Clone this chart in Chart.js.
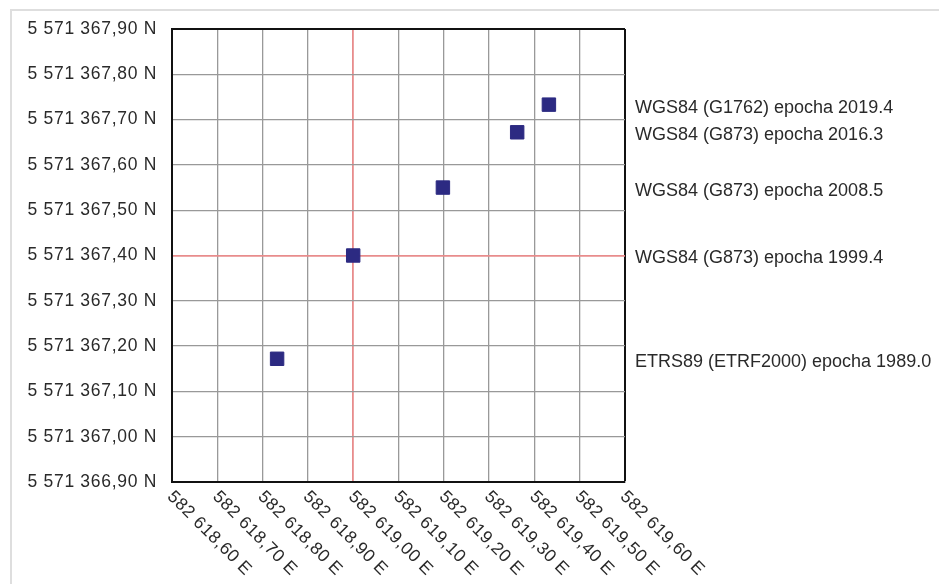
<!DOCTYPE html>
<html>
<head>
<meta charset="utf-8">
<script src="https://cdn.jsdelivr.net/npm/chart.js@4.4.1/dist/chart.umd.min.js"></script>
<style>
    html, body { margin: 0; padding: 0; background: #fff; overflow: hidden; }
    #frame { position: absolute; left: 10px; top: 9px; width: 960px; height: 600px; border: 2px solid #dedede; }
    #wrap { position: absolute; left: 0; top: 0; width: 939px; height: 584px; }
</style>
</head>
<body>
<div id="frame"></div>
<div id="wrap"><canvas id="chart"></canvas></div>
<script>
// Ticks
const xTickValues = [582618.6, 582618.7, 582618.8, 582618.9, 582619.0, 582619.1, 582619.2, 582619.3, 582619.4, 582619.5, 582619.6];
const xTickLabels = ['582 618,60 E', '582 618,70 E', '582 618,80 E', '582 618,90 E', '582 619,00 E', '582 619,10 E',
    '582 619,20 E', '582 619,30 E', '582 619,40 E', '582 619,50 E', '582 619,60 E'];
const yTickValues = [5571366.9, 5571367.0, 5571367.1, 5571367.2, 5571367.3, 5571367.4, 5571367.5, 5571367.6, 5571367.7, 5571367.8, 5571367.9];
const yTickLabels = ['5 571 366,90 N', '5 571 367,00 N', '5 571 367,10 N', '5 571 367,20 N', '5 571 367,30 N', '5 571 367,40 N',
    '5 571 367,50 N', '5 571 367,60 N', '5 571 367,70 N', '5 571 367,80 N', '5 571 367,90 N'];

// Punti
const pointLabels = ['ETRS89 (ETRF2000) epocha 1989.0', 'WGS84 (G873) epocha 1999.4', 'WGS84 (G873) epocha 2008.5',
    'WGS84 (G873) epocha 2016.3', 'WGS84 (G1762) epocha 2019.4'];
const eastings = [582618.832, 582619.00, 582619.198, 582619.362, 582619.432];
const northings = [5571367.172, 5571367.40, 5571367.55, 5571367.672, 5571367.733];

// Linee di riferimento
const refEasting = 582619.00;
const refNorthing = 5571367.40;

const FONT = '"Liberation Sans", Arial, sans-serif';
const GRID = '#999';
const RED = '#e88c8c';
const BLACK = '#111';
const TEXT = '#2a2a2a';

function gridColor(values, ref) {
    return c => {
        if (!c.tick) return GRID;
        if (Math.abs(c.tick.value - ref) < 1e-6) return RED;
        if (c.index === values.length - 1) return BLACK;
        return GRID;
    };
}
function gridWidth(values, ref) {
    return c => {
        if (c.index === values.length - 1) return 2;
        if (c.tick && Math.abs(c.tick.value - ref) < 1e-6) return 1.8;
        return 1.3;
    };
}

const textPlugin = {
    id: 'texts',
    beforeDraw(chart) {
        chart.ctx.letterSpacing = '0.7px';
    },
    afterDraw(chart) {
        const { ctx, chartArea, scales: { x, y } } = chart;
        ctx.save();
        ctx.fillStyle = TEXT;
        // etichette asse X ruotate
        ctx.font = '17.5px ' + FONT;
        ctx.letterSpacing = '0.6px';
        xTickValues.forEach((v, i) => {
            ctx.save();
            ctx.translate(x.getPixelForValue(v) - 2, chartArea.bottom + 12);
            ctx.rotate(Math.PI / 4);
            ctx.textAlign = 'left';
            ctx.textBaseline = 'middle';
            ctx.fillText(xTickLabels[i], 0, 0);
            ctx.restore();
        });
        // etichette dei punti
        ctx.font = '18px ' + FONT;
        ctx.letterSpacing = '0px';
        ctx.textAlign = 'left';
        ctx.textBaseline = 'middle';
        pointLabels.forEach((t, i) => {
            ctx.fillText(t, chartArea.right + 10, y.getPixelForValue(northings[i]) + 3);
        });
        ctx.restore();
    }
};

new Chart(document.getElementById('chart'), {
    type: 'scatter',
    data: {
        datasets: [{
            data: eastings.map((e, i) => ({ x: e, y: northings[i] })),
            backgroundColor: '#2c2a82',
            borderColor: '#2c2a82',
            borderWidth: 1,
            pointStyle: 'rect',
            pointRadius: 9.5,
            pointHoverRadius: 9.5
        }]
    },
    options: {
        responsive: true,
        maintainAspectRatio: false,
        animation: false,
        layout: { padding: { top: 29, right: 314, left: 0, bottom: 0 } },
        plugins: {
            legend: { display: false },
            tooltip: { enabled: false }
        },
        scales: {
            x: {
                type: 'linear',
                min: xTickValues[0],
                max: xTickValues[xTickValues.length - 1],
                afterBuildTicks: s => { s.ticks = xTickValues.map(v => ({ value: v })); },
                afterFit: s => { s.height = 102; },
                ticks: { display: false },
                grid: {
                    color: gridColor(xTickValues, refEasting),
                    lineWidth: gridWidth(xTickValues, refEasting),
                    drawTicks: false
                },
                border: { color: BLACK, width: 2 }
            },
            y: {
                type: 'linear',
                min: yTickValues[0],
                max: yTickValues[yTickValues.length - 1],
                afterBuildTicks: s => { s.ticks = yTickValues.map(v => ({ value: v })); },
                afterFit: s => { s.width = 172; },
                ticks: {
                    callback: (v, i) => yTickLabels[i],
                    font: { family: FONT, size: 17.5 },
                    color: TEXT,
                    padding: 15
                },
                grid: {
                    color: gridColor(yTickValues, refNorthing),
                    lineWidth: gridWidth(yTickValues, refNorthing),
                    drawTicks: false
                },
                border: { color: BLACK, width: 2 }
            }
        }
    },
    plugins: [textPlugin]
});
</script>
</body>
</html>
